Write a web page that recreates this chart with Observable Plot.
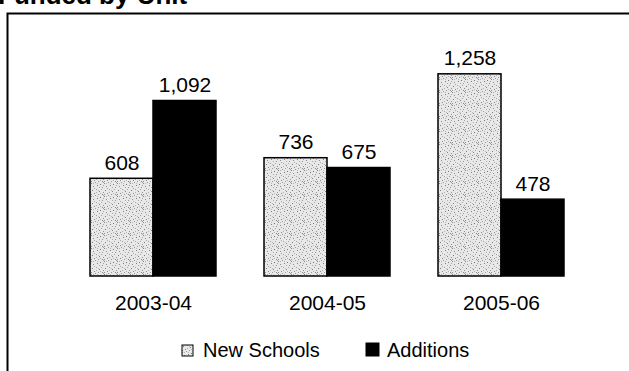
<!DOCTYPE html>
<html>
<head>
<meta charset="utf-8">
<script src="https://cdn.jsdelivr.net/npm/d3@7"></script>
<script src="https://cdn.jsdelivr.net/npm/@observablehq/plot@0.6"></script>
<style>
  html, body { margin: 0; padding: 0; background: #fff; }
  #chart { width: 629px; height: 371px; overflow: hidden; }
  svg { display: block; }
</style>
</head>
<body>
<div id="chart"></div>
<script>
// Square footage funded, by school year
const years = ["2003-04", "2004-05", "2005-06"];
const series = ["New Schools", "Additions"];
const newSchools = [608, 736, 1258];
const additions = [1092, 675, 478];
const title = "Funded by Unit";

const data = years.flatMap((year, i) => [
  {year, series: series[0], value: newSchools[i]},
  {year, series: series[1], value: additions[i]}
]);

const font = "'Liberation Sans', Arial, Helvetica, sans-serif";
const fmt = d3.format(",");

const chart = Plot.plot({
  width: 629,
  height: 371,
  marginLeft: 90,
  marginRight: 65,
  marginTop: 51,
  marginBottom: 95,
  style: {fontFamily: font, color: "#000", background: "#fff"},
  fx: {domain: years, paddingInner: 0.276, paddingOuter: 0, label: null},
  x: {domain: series, padding: 0, axis: null},
  y: {domain: [0, 1400], axis: null},
  color: {domain: series, range: ["url(#stipple)", "#000"]},
  marks: [
    Plot.barY(data, {
      fx: "year", x: "series", y: "value",
      fill: "series", stroke: "#000", strokeWidth: 1.5
    }),
    Plot.text(data, {
      fx: "year", x: "series", y: "value",
      text: d => fmt(d.value),
      lineAnchor: "bottom", dy: -9,
      fontSize: 21, fill: "#000"
    }),
    Plot.axisFx({anchor: "bottom", tickSize: 0, tickPadding: 19, fontSize: 21, label: null})
  ]
});

const svg = d3.select(chart);

// Stippled fill used by the "New Schools" bars and legend swatch
const defs = svg.insert("defs", ":first-child");
const pat = defs.append("pattern")
  .attr("id", "stipple")
  .attr("patternUnits", "userSpaceOnUse")
  .attr("width", 13).attr("height", 13);
pat.append("rect").attr("width", 13).attr("height", 13).attr("fill", "#e8e8e8");
const dots = [
  [0,1,"#888"],[4,0,"#999"],[9,2,"#777"],[12,0,"#a0a0a0"],[2,4,"#909090"],
  [6,3,"#808080"],[11,5,"#989898"],[1,8,"#7c7c7c"],[5,7,"#a4a4a4"],[8,9,"#858585"],
  [12,10,"#949494"],[3,11,"#8c8c8c"],[7,12,"#999"],[10,7,"#a8a8a8"],[0,12,"#909090"],
  [5,10,"#b0b0b0"],[8,5,"#ababab"],[2,1,"#b4b4b4"],[11,12,"#8a8a8a"],[6,1,"#b8b8b8"],
  [3,6,"#aaaaaa"],[9,11,"#b2b2b2"],[12,3,"#a6a6a6"],[7,8,"#bcbcbc"]
];
pat.selectAll("rect.d").data(dots).join("rect")
  .attr("class", "d")
  .attr("x", d => d[0]).attr("y", d => d[1])
  .attr("width", 1).attr("height", 1)
  .attr("fill", d => d[2]);

// Box rule along the top and left side
svg.append("path")
  .attr("d", "M7.5,371V13.5H629")
  .attr("fill", "none")
  .attr("stroke", "#000")
  .attr("stroke-width", 2);

// Heading running off the top edge
svg.append("text")
  .attr("x", -2).attr("y", 4)
  .attr("text-anchor", "start")
  .attr("font-family", font)
  .attr("font-weight", "bold")
  .attr("font-size", 26)
  .attr("fill", "#000")
  .text(title);

// Legend
const legend = [
  {name: series[0], sx: 182, sy: 345, size: 11, tx: 203},
  {name: series[1], sx: 366, sy: 343, size: 13, tx: 387}
];
const lg = svg.append("g")
  .attr("font-family", font)
  .attr("font-size", 20)
  .attr("text-anchor", "start");
legend.forEach(l => {
  lg.append("rect")
    .attr("x", l.sx).attr("y", l.sy)
    .attr("width", l.size).attr("height", l.size)
    .attr("fill", chart.scale("color").apply(l.name))
    .attr("stroke", "#000").attr("stroke-width", 1);
  lg.append("text")
    .attr("x", l.tx).attr("y", 357)
    .attr("fill", "#000")
    .text(l.name);
});

document.getElementById("chart").appendChild(chart);
</script>
</body>
</html>
